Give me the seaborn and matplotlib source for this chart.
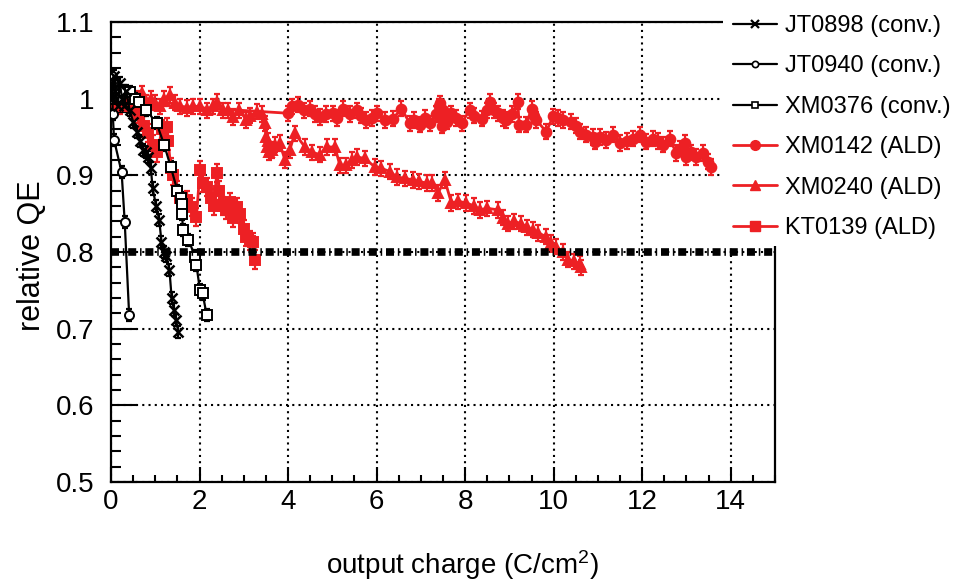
import numpy as np
import pandas as pd
import matplotlib
matplotlib.use("Agg")
import matplotlib.pyplot as plt
import seaborn as sns
from matplotlib.patches import Rectangle
from matplotlib.lines import Line2D
from matplotlib.ticker import MultipleLocator, FormatStrFormatter

# ---------------- data ----------------
jt0898_x = [0.0, 0.03, 0.06, 0.1, 0.15, 0.2, 0.25, 0.3, 0.35, 0.42, 0.5, 0.59, 0.66, 0.73, 0.8,
            0.84, 0.9, 0.94, 1.02, 1.09, 1.14, 1.2, 1.25, 1.32, 1.37, 1.42, 1.47, 1.52]
jt0898_y = [1.02, 1.0, 1.03, 1.01, 0.99, 1.02, 1.0, 0.99, 1.01, 0.985, 0.97, 0.957, 0.945, 0.933, 0.93,
            0.924, 0.91, 0.883, 0.86, 0.842, 0.813, 0.80, 0.795, 0.777, 0.740, 0.725, 0.711, 0.696]
jt0898_err = 0.008

jt0940_x = [0.0, 0.02, 0.04, 0.07, 0.24, 0.31, 0.41]
jt0940_y = [1.02, 1.03, 0.98, 0.946, 0.904, 0.839, 0.718]
jt0940_err = 0.008

xm0376_x = [0.0, 0.05, 0.1, 0.2, 0.3, 0.43, 0.55, 0.64, 0.8, 1.03, 1.2, 1.35, 1.5, 1.58, 1.6, 1.61,
            1.62, 1.75, 1.9, 1.93, 2.01, 2.07, 2.16]
xm0376_y = [1.0, 1.02, 1.01, 1.0, 1.01, 1.009, 1.0, 0.996, 0.985, 0.968, 0.94, 0.911, 0.88, 0.87, 0.863,
            0.85, 0.829, 0.816, 0.794, 0.783, 0.750, 0.746, 0.718]
xm0376_err = 0.008

xm0142_x = [0.0, 0.05, 0.1, 4.0, 4.1, 4.23, 4.35, 4.49, 4.6, 4.72, 4.85, 5.02, 5.1, 5.24, 5.4, 5.55,
            5.65, 5.77, 5.9, 6.0, 6.19, 6.37, 6.56, 6.75, 6.85, 6.98, 7.1, 7.2, 7.35, 7.4, 7.43,
            7.45, 7.48, 7.5, 7.55, 7.6, 7.69, 7.8, 7.92, 8.1, 8.2, 8.37, 8.5, 8.56, 8.65, 8.74,
            8.85, 8.93, 9.05, 9.19, 9.22, 9.38, 9.5, 9.55, 9.61, 9.83, 9.99, 10.1, 10.21, 10.4,
            10.5, 10.59, 10.74, 10.89, 10.93, 11.05, 11.19, 11.34, 11.49, 11.65, 11.79, 11.94,
            12.09, 12.24, 12.35, 12.47, 12.62, 12.77, 12.85, 12.96, 12.99, 13.1, 13.22, 13.37,
            13.48, 13.56]
xm0142_y = [1.0, 1.01, 0.995, 0.981, 0.99, 0.992, 0.985, 0.987, 0.98, 0.976, 0.98, 0.981, 0.975,
            0.987, 0.98, 0.985, 0.978, 0.972, 0.975, 0.981, 0.972, 0.974, 0.987, 0.968, 0.972,
            0.966, 0.975, 0.968, 0.98, 0.99, 0.994, 0.975, 0.965, 0.985, 0.978, 0.97, 0.981,
            0.975, 0.968, 0.985, 0.978, 0.974, 0.985, 0.996, 0.985, 0.981, 0.975, 0.972, 0.98,
            0.996, 0.966, 0.966, 0.987, 0.978, 0.972, 0.957, 0.977, 0.975, 0.972, 0.970, 0.965,
            0.957, 0.953, 0.950, 0.944, 0.95, 0.946, 0.953, 0.942, 0.945, 0.948, 0.953, 0.944,
            0.948, 0.945, 0.940, 0.948, 0.929, 0.935, 0.942, 0.924, 0.93, 0.924, 0.929, 0.918,
            0.911]
xm0142_err = 0.01

xm0240_x = [0.0, 0.1, 0.2, 0.3, 0.45, 0.6, 0.69, 0.8, 0.9, 1.0, 1.1, 1.2, 1.33, 1.45, 1.55, 1.71,
            1.85, 2.0, 2.16, 2.3, 2.39, 2.53, 2.65, 2.76, 2.9, 3.06, 3.15, 3.29, 3.4, 3.48, 3.5,
            3.52, 3.55, 3.58, 3.63, 3.7, 3.81, 3.93, 4.04, 4.15, 4.38, 4.55, 4.72, 4.87, 5.06,
            5.17, 5.32, 5.45, 5.55, 5.73, 5.96, 6.11, 6.3, 6.45, 6.65, 6.82, 6.95, 7.13, 7.25,
            7.39, 7.54, 7.69, 7.85, 8.03, 8.2, 8.33, 8.5, 8.74, 8.85, 8.97, 9.1, 9.27, 9.4, 9.53,
            9.65, 9.83, 9.95, 10.06, 10.2, 10.32, 10.45, 10.59, 10.62]
xm0240_y = [1.0, 1.01, 0.99, 1.0, 1.0, 1.0, 1.007, 0.995, 1.0, 0.995, 0.99, 1.0, 1.005, 0.995, 0.99,
            0.988, 0.99, 0.99, 0.985, 0.99, 0.996, 0.985, 0.985, 0.976, 0.985, 0.972, 0.978,
            0.983, 0.98, 0.968, 0.95, 0.937, 0.945, 0.93, 0.933, 0.94, 0.942, 0.92, 0.933, 0.955,
            0.937, 0.93, 0.927, 0.937, 0.937, 0.913, 0.913, 0.92, 0.924, 0.922, 0.911, 0.909,
            0.905, 0.898, 0.896, 0.894, 0.892, 0.890, 0.89, 0.877, 0.894, 0.864, 0.866, 0.864,
            0.86, 0.855, 0.857, 0.855, 0.845, 0.837, 0.84, 0.837, 0.832, 0.829, 0.825, 0.820,
            0.812, 0.807, 0.80, 0.790, 0.788, 0.785, 0.78]
xm0240_err = 0.01

kt0139_x = [0.0, 0.1, 0.2, 0.3, 0.45, 0.6, 0.75, 0.84, 0.95, 1.05, 1.15, 1.26, 1.29, 1.35, 1.4,
            1.48, 1.55, 1.62, 1.71, 1.82, 1.93, 2.01, 2.08, 2.16, 2.25, 2.32, 2.39, 2.45, 2.52,
            2.6, 2.68, 2.75, 2.84, 2.92, 3.0, 3.06, 3.13, 3.21, 3.25]
kt0139_y = [1.0, 1.01, 0.995, 1.0, 0.99, 0.98, 0.965, 0.955, 0.94, 0.93, 0.96, 0.963, 0.945, 0.91,
            0.90, 0.88, 0.87, 0.86, 0.868, 0.859, 0.846, 0.907, 0.89, 0.885, 0.87, 0.86, 0.903,
            0.88, 0.86, 0.855, 0.865, 0.845, 0.859, 0.85, 0.83, 0.82, 0.815, 0.813, 0.79]
kt0139_err = 0.012

labels = ["JT0898 (conv.)", "JT0940 (conv.)", "XM0376 (conv.)",
          "XM0142 (ALD)", "XM0240 (ALD)", "KT0139 (ALD)"]
threshold = 0.8
x_ticks = [0, 2, 4, 6, 8, 10, 12, 14]

# ---------------- style ----------------
sns.set_theme(style="white")
plt.rcParams["font.family"] = ["Liberation Sans", "DejaVu Sans"]
plt.rcParams["mathtext.default"] = "regular"
for k in ["text.color", "axes.labelcolor", "xtick.color", "ytick.color", "axes.edgecolor"]:
    plt.rcParams[k] = "black"

RED = "#ed2024"
BLK = "#000000"

fig = plt.figure(figsize=(9.66, 5.82), dpi=100)
ax = fig.add_axes([111 / 966, 1 - 482 / 582, (775 - 111) / 966, (482 - 22) / 582])

series = [
    (kt0139_x, kt0139_y, kt0139_err, RED, "s", RED, 6.5, 2.0),
    (xm0240_x, xm0240_y, xm0240_err, RED, "^", RED, 7.5, 2.0),
    (xm0142_x, xm0142_y, xm0142_err, RED, "o", RED, 7, 2.0),
    (xm0376_x, xm0376_y, xm0376_err, BLK, "s", "white", 6.5, 1.6),
    (jt0940_x, jt0940_y, jt0940_err, BLK, "o", "white", 6.5, 1.6),
    (jt0898_x, jt0898_y, jt0898_err, BLK, "x", BLK, 7, 1.6),
]
for xs, ys, err, col, mk, mfc, ms, lw in series:
    df = pd.DataFrame({"x": xs, "y": ys})
    ax.errorbar(df["x"], df["y"], yerr=err, fmt="none", ecolor=col, elinewidth=1.6,
                capsize=2.5, capthick=1.6, zorder=2)
    sns.lineplot(data=df, x="x", y="y", ax=ax, color=col, sort=False, estimator=None,
                 marker=mk, markersize=ms, markerfacecolor=mfc, markeredgecolor=col,
                 markeredgewidth=1.8 if mk == "x" else 1.4, linewidth=lw, legend=False, zorder=3)

# threshold line
ax.axhline(threshold, color=BLK, linewidth=5.5, linestyle=(0, (1.05, 0.5, 0.2, 0.5)),
           dash_capstyle="butt", zorder=4)

ax.set_xlim(0, 15)
ax.set_ylim(0.5, 1.1)
ax.set_xticks(x_ticks)
ax.xaxis.set_minor_locator(MultipleLocator(0.5))
ax.yaxis.set_major_locator(MultipleLocator(0.1))
ax.yaxis.set_minor_locator(MultipleLocator(0.02))
ax.yaxis.set_major_formatter(FormatStrFormatter("%g"))
ax.grid(True, which="major", color=BLK, linestyle=(0, (1, 2.0)), linewidth=1.5)
ax.tick_params(axis="x", which="major", direction="in", length=11, width=1.5,
               labelsize=20, pad=5, bottom=True, top=False, colors=BLK)
ax.tick_params(axis="x", which="minor", direction="in", length=5, width=1.5,
               bottom=True, top=False)
ax.tick_params(axis="y", which="major", direction="in", length=19, width=1.5,
               labelsize=20, pad=12, left=True, right=False, colors=BLK)
ax.tick_params(axis="y", which="minor", direction="in", length=7, width=1.5,
               left=True, right=False)
for s in ax.spines.values():
    s.set_color(BLK)
    s.set_linewidth(1.6)

ax.set_xlabel("output charge (C/cm$^{2}$)", fontsize=20, color=BLK)
ax.xaxis.set_label_coords(0.529, -0.18)
ax.xaxis.label.set_va("center")
ax.set_ylabel("relative QE", fontsize=22, color=BLK)
ax.yaxis.set_label_coords(-0.119, 0.493)
ax.yaxis.label.set_va("center")

# white legend area covering the top-right of the frame
fig.add_artist(Rectangle((723 / 966, 1 - 246 / 582), (966 - 723) / 966, 246 / 582,
                         transform=fig.transFigure, facecolor="white",
                         edgecolor="none", zorder=5))

handles = [
    Line2D([], [], color=BLK, lw=1.6, marker="x", ms=6, mew=1.6),
    Line2D([], [], color=BLK, lw=1.6, marker="o", ms=4.5, mfc="white", mew=1.2),
    Line2D([], [], color=BLK, lw=1.6, marker="s", ms=5, mfc="white", mew=1.2),
    Line2D([], [], color=RED, lw=2, marker="o", ms=7),
    Line2D([], [], color=RED, lw=2, marker="^", ms=7.5),
    Line2D([], [], color=RED, lw=2, marker="s", ms=6.5),
]
leg = fig.legend(handles, labels, loc="upper left", bbox_to_anchor=(733 / 966, 1 - 15 / 582),
                 frameon=False, fontsize=17, handlelength=1.85, handletextpad=0.35,
                 labelspacing=0.78, borderpad=0, borderaxespad=0)
leg.set_zorder(6)

fig.savefig("out.png", dpi=100)
